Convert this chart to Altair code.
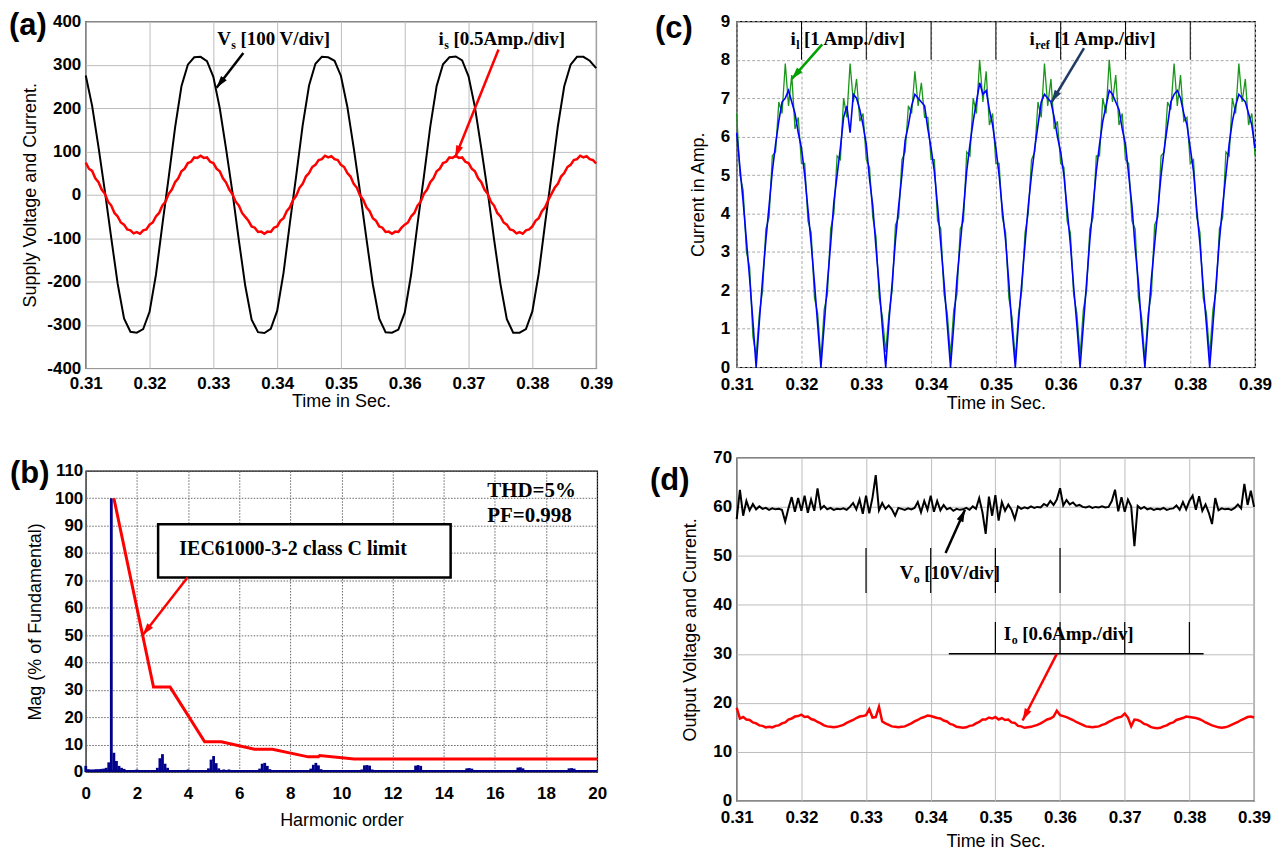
import math
import altair as alt
import pandas as pd

SANS = "Liberation Sans"
SERIF = "Liberation Serif"

# ---------------- data ----------------
T_MS = [round(0.310 + 0.001 * i, 3) for i in range(81)]
T_HALF = [round(0.310 + 0.0005 * i, 4) for i in range(161)]
TIME_TICKS = [0.31, 0.32, 0.33, 0.34, 0.35, 0.36, 0.37, 0.38, 0.39]

# (a) supply voltage (1 ms samples)
VS = [275, 205, 110, 8, -100, -205, -285, -316, -318, -310, -270, -185, -70, 40, 155, 250, 300, 317, 318, 308,
      272, 200, 105, 5, -105, -210, -288, -317, -319, -309, -268, -180, -65, 45, 160, 252, 302, 318, 317, 309,
      274, 203, 108, 6, -102, -207, -286, -317, -318, -311, -272, -184, -68, 42, 157, 251, 301, 317, 319, 310,
      273, 202, 107, 7, -103, -206, -287, -318, -318, -310, -269, -182, -66, 44, 158, 250, 300, 318, 318, 309,
      292]
# (a) supply current (0.5 ms samples)
IS = [74, 60, 55, 38, 29, 12, 2, -16, -25, -42, -50, -64, -69, -80, -82, -89, -86, -90, -82, -80,
      -69, -64, -50, -42, -25, -16, 2, 12, 29, 38, 54, 60, 73, 76, 86, 85, 90, 85, 86, 76,
      73, 60, 54, 38, 28, 12, 1, -16, -25, -42, -51, -60, -73, -76, -86, -85, -90, -85, -86, -76,
      -73, -60, -54, -38, -29, -12, -2, 16, 25, 42, 50, 64, 69, 80, 82, 90, 86, 89, 82, 80,
      69, 64, 50, 42, 25, 16, -2, -12, -29, -38, -54, -60, -73, -76, -86, -85, -90, -85, -86, -76,
      -69, -64, -50, -42, -25, -16, 2, 12, 29, 38, 54, 60, 73, 76, 86, 85, 90, 85, 86, 76,
      73, 60, 54, 38, 29, 12, 2, -16, -25, -42, -50, -64, -69, -80, -82, -89, -86, -90, -82, -80,
      -73, -60, -54, -38, -29, -12, 2, 16, 25, 42, 50, 64, 69, 80, 82, 90, 86, 89, 82, 80,
      72]

# (c) reference current (blue) and inductor current (green), 0.5 ms samples
IREF = [6.1, 5.2, 4.3, 3.3, 2.3, 1.2,
        0.0, 1.2, 2.3, 3.3, 4.2, 5.1, 5.8, 6.4, 6.9, 7.0, 7.2, 6.9, 6.6, 6.1, 5.7, 5.0, 4.1, 3.2, 2.2, 1.1,
        0.0, 1.1, 2.2, 3.2, 4.3, 5.0, 5.7, 6.5, 6.8, 6.1, 7.1, 7.0, 6.7, 6.3, 5.8, 4.9, 4.2, 3.1, 2.1, 1.0,
        0.0, 1.2, 2.2, 3.3, 4.2, 5.0, 5.9, 6.3, 6.8, 7.1, 7.0, 6.9, 6.8, 6.2, 5.7, 5.1, 4.2, 3.2, 2.2, 1.1,
        0.0, 1.1, 2.3, 3.2, 4.1, 5.1, 5.8, 6.4, 6.9, 7.4, 7.1, 7.2, 6.7, 6.3, 5.7, 5.0, 4.1, 3.3, 2.2, 1.0,
        0.0, 1.2, 2.2, 3.2, 4.2, 5.0, 5.7, 6.3, 6.9, 7.1, 7.0, 6.9, 6.5, 6.0, 5.6, 5.0, 4.1, 3.2, 2.1, 1.1,
        0.0, 1.1, 2.2, 3.3, 4.2, 5.1, 5.8, 6.4, 6.8, 7.2, 7.1, 6.9, 6.7, 6.2, 5.8, 5.0, 4.2, 3.1, 2.2, 1.0,
        0.0, 1.2, 2.3, 3.2, 4.1, 5.0, 5.7, 6.3, 6.9, 7.1, 7.2, 7.0, 6.6, 6.3, 5.7, 5.1, 4.1, 3.2, 2.1, 1.1,
        0.0, 1.1, 2.2, 3.3, 4.2, 5.0, 5.8, 6.4, 6.8, 7.1, 7.0, 6.9, 6.6, 6.3, 5.7]
IL = [6.6, 5.0, 4.6, 3.0, 2.6, 0.8,
      0.3, 1.4, 2.0, 3.6, 3.9, 5.5, 5.6, 6.9, 6.6, 7.9, 6.8, 7.6, 6.2, 6.5, 5.3, 5.3, 3.8, 3.5, 1.8, 1.4,
      0.2, 1.5, 1.9, 3.6, 4.0, 5.5, 5.4, 7.0, 6.5, 7.9, 6.9, 7.5, 6.4, 6.6, 5.4, 5.2, 3.9, 3.4, 1.8, 1.3,
      0.4, 1.4, 2.0, 3.7, 3.9, 5.4, 5.6, 6.8, 6.6, 7.7, 6.8, 7.4, 6.5, 6.5, 5.4, 5.4, 3.8, 3.6, 1.9, 1.4,
      0.3, 1.5, 1.9, 3.6, 3.8, 5.6, 5.5, 7.0, 6.6, 8.0, 6.9, 7.7, 6.3, 6.6, 5.3, 5.3, 3.9, 3.5, 1.8, 1.3,
      0.2, 1.4, 2.0, 3.5, 4.0, 5.4, 5.6, 6.9, 6.5, 7.9, 6.8, 7.5, 6.2, 6.4, 5.3, 5.2, 3.8, 3.5, 1.9, 1.4,
      0.3, 1.5, 2.0, 3.6, 3.9, 5.5, 5.5, 7.0, 6.6, 8.0, 6.9, 7.6, 6.3, 6.6, 5.4, 5.3, 3.8, 3.6, 1.8, 1.3,
      0.2, 1.4, 1.9, 3.7, 3.9, 5.5, 5.6, 6.9, 6.7, 7.9, 6.8, 7.6, 6.4, 6.5, 5.3, 5.4, 3.9, 3.5, 1.8, 1.4,
      0.3, 1.5, 2.0, 3.6, 3.9, 5.6, 5.5, 7.0, 6.6, 7.9, 6.9, 7.5, 6.3, 6.6, 5.5]

# (d) output voltage and current, 0.5 ms samples
VO = [57.5, 63.5, 58.2, 61.2, 59.3, 60.6, 59.5, 60.1, 59.6, 59.8, 59.4, 59.7, 59.5, 59.6, 59.4, 57.0, 59.7, 62.0, 59.0, 61.8,
      59.2, 62.3, 58.8, 61.5, 59.2, 63.8, 59.6, 60.2, 59.5, 59.8, 59.4, 59.6, 59.5, 59.7, 59.4, 60.0, 60.8, 59.5, 61.5, 58.6,
      62.3, 58.7, 61.9, 66.5, 59.3, 60.8, 59.6, 60.3, 59.5, 58.2, 59.8, 59.6, 59.4, 59.7, 59.5, 59.8, 61.0, 58.9, 61.2, 59.4,
      62.3, 59.0, 61.2, 59.3, 60.4, 59.5, 59.8, 59.2, 59.6, 59.4, 59.5, 59.8, 59.4, 60.1, 59.6, 61.8, 58.9, 54.5, 62.1, 58.2,
      62.4, 57.2, 61.0, 59.2, 60.5, 59.4, 57.5, 60.1, 59.6, 59.9, 59.7, 60.1, 59.8, 60.0, 59.9, 60.6, 60.2, 61.2, 60.4, 61.5,
      63.8, 60.3, 61.4, 60.5, 60.9, 60.2, 60.4, 60.0, 59.9, 60.1, 59.8, 60.0, 59.9, 60.1, 59.9, 60.0, 61.2, 63.5, 59.1, 62.0,
      59.0, 61.5, 60.1, 52.0, 60.2, 59.6, 60.0, 59.5, 59.7, 59.4, 59.6, 59.5, 59.8, 59.4, 59.6, 59.7, 60.3, 59.4, 61.0, 59.5,
      61.2, 62.3, 59.4, 62.2, 59.2, 60.5, 58.8, 56.5, 61.8, 59.3, 59.7, 59.5, 59.6, 59.4, 59.8, 60.5, 59.7, 64.7, 60.4, 63.3,
      60.0]
IO = [19.0, 16.8, 17.1, 16.6, 16.5, 16.0, 15.8, 15.4, 15.3, 15.0, 15.1, 15.0, 15.3, 15.4, 15.8, 16.0, 16.6, 16.8, 17.2, 17.3,
      17.6, 17.1, 17.2, 16.7, 16.5, 16.1, 15.8, 15.4, 15.2, 15.1, 15.0, 15.1, 15.3, 15.5, 15.9, 16.2, 16.5, 16.9, 17.2, 17.3,
      17.5, 18.7, 17.0, 17.1, 19.2, 16.2, 15.8, 15.5, 15.2, 15.1, 15.0, 15.1, 15.2, 15.5, 15.8, 16.2, 16.5, 16.9, 17.1, 17.4,
      17.3, 17.1, 16.9, 16.8, 16.4, 16.2, 15.7, 15.5, 15.1, 15.0, 14.9, 15.0, 15.3, 15.4, 15.8, 16.1, 16.6, 16.6, 17.0, 16.8,
      17.1, 16.6, 16.9, 16.5, 16.6, 16.0, 15.9, 15.3, 15.2, 14.9, 15.0, 15.1, 15.3, 15.5, 15.8, 16.2, 16.6, 16.8, 17.2, 18.4,
      17.5, 17.3, 17.1, 16.8, 16.5, 16.1, 15.8, 15.5, 15.2, 15.1, 15.0, 15.1, 15.2, 15.5, 15.7, 16.1, 16.4, 16.8, 17.0, 17.2,
      17.8, 17.0, 15.2, 16.6, 16.5, 16.2, 15.7, 15.5, 15.1, 14.9, 14.8, 14.9, 15.2, 15.4, 15.8, 16.0, 16.5, 16.7, 16.9, 17.2,
      17.1, 17.0, 16.9, 16.7, 16.4, 16.0, 15.7, 15.4, 15.2, 15.0, 14.9, 15.0, 15.2, 15.5, 15.8, 16.1, 16.5, 16.8, 17.1, 17.2,
      17.0]

# (b) harmonic spectrum
SPEC_ORDER = [0.0, 0.1, 0.2, 0.3, 0.4, 0.5, 0.6, 0.7, 0.8, 0.9, 1.0, 1.1, 1.2, 1.3, 1.4, 1.5,
              2.0, 2.8, 2.9, 3.0, 3.1, 3.2,
              4.0, 4.8, 4.9, 5.0, 5.1, 5.2, 5.4, 5.6,
              6.8, 6.9, 7.0, 7.1, 7.2,
              8.8, 8.9, 9.0, 9.1, 9.2,
              10.8, 10.9, 11.0, 11.1, 11.2,
              12.9, 13.0, 13.1,
              14.9, 15.0, 15.1,
              16.9, 17.0, 17.1,
              18.9, 19.0, 19.1]
SPEC_MAG = [2.2, 1.0, 0.9, 0.9, 1.0, 1.0, 1.1, 1.2, 1.5, 3.5, 100, 7.0, 4.0, 2.2, 1.5, 1.1,
            0.9, 1.5, 5.0, 6.5, 3.0, 1.5,
            0.9, 1.3, 4.5, 5.8, 3.2, 1.3, 0.9, 0.9,
            1.2, 3.0, 3.3, 2.2, 1.0,
            1.2, 2.6, 3.3, 2.4, 1.0,
            0.9, 2.4, 2.5, 2.3, 0.9,
            2.3, 2.5, 2.2,
            1.3, 1.4, 1.2,
            1.6, 1.7, 1.3,
            1.3, 1.4, 1.2]
SPEC_FLOOR = 0.7
LIMIT_ORDER = [1.1, 2.65, 3.3, 4.65, 5.3, 6.6, 7.3, 8.7, 9.1, 9.15, 10.5, 20.0]
LIMIT_MAG = [100, 31, 31, 11, 11, 8.3, 8.3, 5.5, 5.5, 6.0, 4.7, 4.7]

assert len(VS) == 81 and len(IS) == 161 and len(IREF) == 161 and len(IL) == 161
assert len(VO) == 161 and len(IO) == 161 and len(SPEC_ORDER) == len(SPEC_MAG)


# ---------------- helpers ----------------
def mk_axis(title, values, label_expr, grid_color, grid_dash, label_pad, title_pad):
    kw = dict(title=title, values=values, labelExpr=label_expr, grid=True, gridColor=grid_color,
              gridWidth=1, gridOpacity=1, domain=False, ticks=False, labelFont=SANS, labelFontSize=17,
              labelFontWeight="bold", labelColor="black", labelPadding=label_pad, labelOverlap=False,
              labelFlush=False, titleFont=SANS, titleFontSize=18, titleFontWeight="normal",
              titleColor="black", titlePadding=title_pad)
    if grid_dash:
        kw["gridDash"] = grid_dash
    return alt.Axis(**kw)


class Frame:
    """Shared scales/axes of one panel."""

    def __init__(self, xdom, ydom, xaxis, yaxis, W, H):
        self.xdom, self.ydom, self.xaxis, self.yaxis, self.W, self.H = xdom, ydom, xaxis, yaxis, W, H

    def x(self, f):
        return alt.X(f"{f}:Q", scale=alt.Scale(domain=self.xdom, nice=False, zero=False), axis=self.xaxis)

    def y(self, f):
        return alt.Y(f"{f}:Q", scale=alt.Scale(domain=self.ydom, nice=False, zero=False), axis=self.yaxis)


def text_layer(fr, x, y, s, size, dx=0, dy=0, font=SERIF, weight="bold", align="left", color="black"):
    df = pd.DataFrame({"x": [x], "y": [y], "s": [s]})
    return alt.Chart(df).mark_text(font=font, fontSize=size, fontWeight=weight, align=align,
                                   baseline="middle", dx=dx, dy=dy, color=color).encode(
        x=fr.x("x"), y=fr.y("y"), text="s:N")


def sub_label(fr, x, y, main, sub, rest, main_w, sub_w):
    return [text_layer(fr, x, y, main, 19),
            text_layer(fr, x, y, sub, 12, dx=main_w + 0.5, dy=6),
            text_layer(fr, x, y, rest, 19, dx=main_w + sub_w + 5)]


HEAD = "M0,0L0.45,1.5L-0.45,1.5Z"


def arrow(fr, x1, y1, x2, y2, color, width=2.5, head=260):
    df = pd.DataFrame({"x": [x1], "y": [y1], "x2": [x2], "y2": [y2]})
    seg = alt.Chart(df).mark_rule(color=color, strokeWidth=width).encode(
        x=fr.x("x"), y=fr.y("y"), x2="x2:Q", y2="y2:Q")
    dxp = (x2 - x1) / (fr.xdom[1] - fr.xdom[0]) * fr.W
    dyp = -(y2 - y1) / (fr.ydom[1] - fr.ydom[0]) * fr.H
    ang = math.degrees(math.atan2(dxp, -dyp)) % 360
    hd = alt.Chart(pd.DataFrame({"x": [x2], "y": [y2]})).mark_point(
        shape=HEAD, filled=True, size=head, angle=ang, color=color, opacity=1, strokeWidth=0).encode(
        x=fr.x("x"), y=fr.y("y"))
    return [seg, hd]


def panel_label(s, x, y):
    return alt.Chart(pd.DataFrame({"s": [s]})).mark_text(
        font=SANS, fontSize=31, fontWeight="bold", align="left", baseline="middle", color="black").encode(
        x=alt.value(x), y=alt.value(y), text="s:N")


TIME_LABEL = "format(datum.value, '.2f')"
NUM_LABEL = "'' + datum.value"
XD = [0.31, 0.39]

# ---------------- panel (a) ----------------
FA = Frame(XD, [-400, 400],
           mk_axis("Time in Sec.", TIME_TICKS, TIME_LABEL, "#bdbdbd", None, 7, 1),
           mk_axis("Supply Voltage and Current.", list(range(-400, 401, 100)), NUM_LABEL, "#bdbdbd", None, 5, 7),
           512, 348)
a_layers = [
    alt.Chart(pd.DataFrame({"t": T_MS, "v": VS})).mark_line(color="black", strokeWidth=2).encode(
        x=FA.x("t"), y=FA.y("v")),
    alt.Chart(pd.DataFrame({"t": T_HALF, "v": IS})).mark_line(color="#ff0000", strokeWidth=2.5).encode(
        x=FA.x("t"), y=FA.y("v")),
]
a_layers += sub_label(FA, 0.3306, 358, "V", "s", "[100 V/div]", 13.7, 4.7)
a_layers += sub_label(FA, 0.3653, 358, "i", "s", "[0.5Amp./div]", 5.3, 4.7)
a_layers += arrow(FA, 0.3347, 327, 0.3305, 247, "black")
a_layers += arrow(FA, 0.3747, 335, 0.3679, 86, "#ff0000")
a_layers.append(panel_label("(a)", -77, 5))
pa = alt.layer(*a_layers).properties(width=FA.W, height=FA.H)

# ---------------- panel (b) ----------------
FB = Frame([0, 20], [0, 110],
           mk_axis("Harmonic order", list(range(0, 21, 2)), NUM_LABEL, "#666666", [1.5, 1.5], 14, 10),
           mk_axis("Mag (% of Fundamental)", list(range(0, 111, 10)), NUM_LABEL, "#666666", [1.5, 1.5], 3, 10),
           513, 302)
NAVY = "#00008b"
b_layers = [
    alt.Chart(pd.DataFrame({"h": SPEC_ORDER, "m": SPEC_MAG})).transform_calculate(
        h0="datum.h - 0.055", h1="datum.h + 0.055").mark_rect(color=NAVY).encode(
        x=FB.x("h0"), x2="h1:Q", y=FB.y("m"), y2=alt.datum(0)),
    alt.Chart(pd.DataFrame({"h0": [0.0], "h1": [20.0], "m": [SPEC_FLOOR]})).mark_rect(color=NAVY).encode(
        x=FB.x("h0"), x2="h1:Q", y=FB.y("m"), y2=alt.datum(0)),
    alt.Chart(pd.DataFrame({"x": [2.83], "x2": [14.27], "y": [71.0], "y2": [90.5]})).mark_rect(
        fill="white", stroke="black", strokeWidth=2.5).encode(
        x=FB.x("x"), x2="x2:Q", y=FB.y("y"), y2="y2:Q"),
    text_layer(FB, 3.66, 81.5, "IEC61000-3-2 class C limit", 20),
    text_layer(FB, 15.7, 102.6, "THD=5%", 21),
    text_layer(FB, 15.7, 93.4, "PF=0.998", 21),
    alt.Chart(pd.DataFrame({"h": LIMIT_ORDER, "m": LIMIT_MAG})).mark_line(color="#ff0000", strokeWidth=3).encode(
        x=FB.x("h"), y=FB.y("m")),
]
b_layers += arrow(FB, 3.98, 71, 2.23, 50, "#ff0000")
b_layers.append(panel_label("(b)", -76, 3))
pb = alt.layer(*b_layers).properties(width=FB.W, height=FB.H)

# ---------------- panel (c) ----------------
FC = Frame(XD, [0, 9],
           mk_axis("Time in Sec.", TIME_TICKS, TIME_LABEL, "#aaaaaa", [3, 2], 9, 2),
           mk_axis("Current in Amp.", list(range(0, 10)), NUM_LABEL, "#aaaaaa", [3, 2], 7, 13),
           520, 347)
C_MARK_X = [0.32, 0.33, 0.34, 0.35, 0.36, 0.37, 0.38]
c_layers = [
    alt.Chart(pd.DataFrame({"x": C_MARK_X, "y0": [8.0] * 7, "y1": [9.0] * 7})).mark_rule(
        color="black", strokeWidth=1).encode(x=FC.x("x"), y=FC.y("y0"), y2="y1:Q"),
    alt.Chart(pd.DataFrame({"t": T_HALF, "v": IL})).mark_line(color="#1a961a", strokeWidth=1.3).encode(
        x=FC.x("t"), y=FC.y("v")),
    alt.Chart(pd.DataFrame({"t": T_HALF, "v": IREF})).mark_line(color="#0000ff", strokeWidth=1.6).encode(
        x=FC.x("t"), y=FC.y("v")),
]
c_layers += sub_label(FC, 0.3183, 8.55, "i", "l", "[1 Amp./div]", 5.3, 3.3)
c_layers += sub_label(FC, 0.3552, 8.55, "i", "ref", "[1 Amp./div]", 5.3, 14.7)
c_layers += arrow(FC, 0.3232, 8.4, 0.3185, 7.5, "#00a000")
c_layers += arrow(FC, 0.3636, 8.3, 0.3586, 6.9, "#1f3b63")
c_layers.append(panel_label("(c)", -82, 8))
pc = alt.layer(*c_layers).properties(width=FC.W, height=FC.H)

# ---------------- panel (d) ----------------
FD = Frame(XD, [0, 70],
           mk_axis("Time in Sec.", TIME_TICKS, TIME_LABEL, "#bdbdbd", None, 9, 7),
           mk_axis("Output Voltage and Current.", list(range(0, 71, 10)), NUM_LABEL, "#bdbdbd", None, 5, 13),
           519, 344)
D_VMARK_X = [0.33, 0.34, 0.35, 0.36]
D_IMARK_X = [0.35, 0.36, 0.37, 0.38]
d_layers = [
    alt.Chart(pd.DataFrame({"t": T_HALF, "v": VO})).mark_line(color="black", strokeWidth=2).encode(
        x=FD.x("t"), y=FD.y("v")),
    alt.Chart(pd.DataFrame({"t": T_HALF, "v": IO})).mark_line(color="#ff0000", strokeWidth=2.5).encode(
        x=FD.x("t"), y=FD.y("v")),
    alt.Chart(pd.DataFrame({"x": D_VMARK_X, "y0": [42.4] * 4, "y1": [51.6] * 4})).mark_rule(
        color="black", strokeWidth=1.2).encode(x=FD.x("x"), y=FD.y("y0"), y2="y1:Q"),
    alt.Chart(pd.DataFrame({"x": D_IMARK_X, "y0": [30.0] * 4, "y1": [36.5] * 4})).mark_rule(
        color="black", strokeWidth=1.2).encode(x=FD.x("x"), y=FD.y("y0"), y2="y1:Q"),
    alt.Chart(pd.DataFrame({"x": [0.3428], "x2": [0.3822], "y": [30.0]})).mark_rule(
        color="black", strokeWidth=1.5).encode(x=FD.x("x"), x2="x2:Q", y=FD.y("y")),
]
d_layers += sub_label(FD, 0.3352, 46.5, "V", "o", "[10V/div]", 13.7, 6.0)
d_layers += sub_label(FD, 0.3513, 34.0, "I", "o", "[0.6Amp./div]", 7.4, 6.0)
d_layers += arrow(FD, 0.3423, 50.6, 0.3453, 59.4, "black")
d_layers += arrow(FD, 0.3595, 30.0, 0.3542, 16.4, "#ff0000")
d_layers.append(panel_label("(d)", -87, 23))
pd_ = alt.layer(*d_layers).properties(width=FD.W, height=FD.H)

left = alt.vconcat(pa, pb, spacing=46)
right = alt.vconcat(pc, pd_, spacing=35)
chart = alt.hconcat(left, right, spacing=35).configure_view(
    stroke="black", strokeWidth=1.2).properties(padding=0, background="white")

chart.save("out.html", embed_options={"renderer": "svg", "actions": False})
